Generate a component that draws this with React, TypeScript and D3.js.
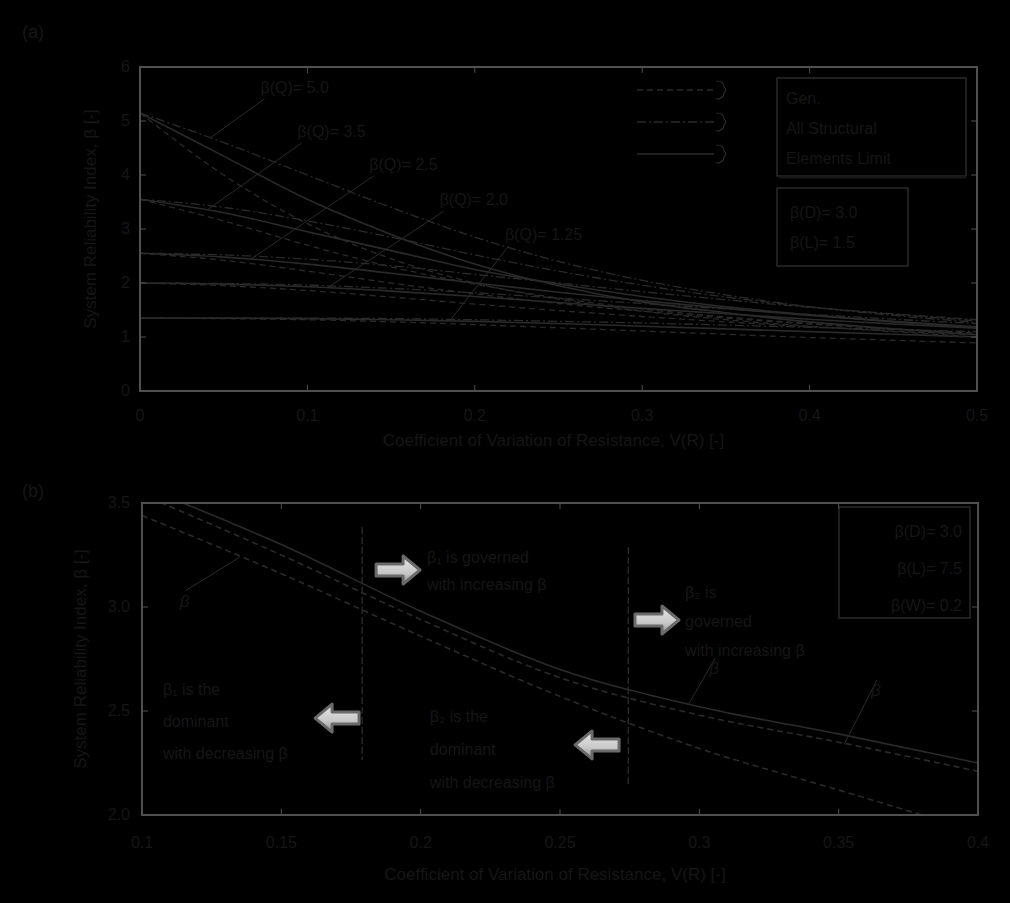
import React from 'react';
import * as d3 from 'd3';

const W = 1010;
const H = 903;

// ---------- Panel (a) data ----------
const covA = [0, 0.05, 0.1, 0.15, 0.2, 0.25, 0.3, 0.35, 0.4, 0.45, 0.5];
const xTicksA = [0, 0.1, 0.2, 0.3, 0.4, 0.5];
const xTickLabelsA = ['0', '0.1', '0.2', '0.3', '0.4', '0.5'];
const yTicksA = [0, 1, 2, 3, 4, 5, 6];

const g1Solid = [5.15, 4.35, 3.55, 2.9, 2.35, 1.95, 1.65, 1.45, 1.28, 1.15, 1.04];
const g1Dashed = [5.15, 4.0, 3.1, 2.45, 2.0, 1.7, 1.48, 1.32, 1.2, 1.1, 1.0];
const g1DashDot = [5.15, 4.6, 4.0, 3.4, 2.85, 2.4, 2.05, 1.78, 1.56, 1.4, 1.27];
const g2Solid = [3.55, 3.3, 2.95, 2.6, 2.25, 1.98, 1.75, 1.56, 1.41, 1.28, 1.17];
const g2Dashed = [3.55, 3.15, 2.7, 2.3, 1.98, 1.72, 1.52, 1.37, 1.25, 1.15, 1.07];
const g2DashDot = [3.55, 3.4, 3.15, 2.85, 2.52, 2.22, 1.96, 1.74, 1.56, 1.42, 1.3];
const g3Solid = [2.55, 2.48, 2.35, 2.18, 2.0, 1.83, 1.67, 1.53, 1.4, 1.29, 1.19];
const g3Dashed = [2.55, 2.42, 2.22, 2.0, 1.8, 1.62, 1.48, 1.35, 1.24, 1.15, 1.07];
const g3DashDot = [2.55, 2.52, 2.44, 2.32, 2.16, 2.0, 1.84, 1.69, 1.55, 1.43, 1.32];
const g4Solid = [2.0, 1.98, 1.93, 1.85, 1.75, 1.64, 1.53, 1.43, 1.33, 1.24, 1.16];
const g4Dashed = [2.0, 1.95, 1.86, 1.74, 1.61, 1.49, 1.38, 1.28, 1.19, 1.11, 1.04];
const g4DashDot = [2.0, 1.99, 1.96, 1.9, 1.82, 1.72, 1.62, 1.52, 1.42, 1.33, 1.25];
const g5Solid = [1.35, 1.35, 1.34, 1.32, 1.29, 1.25, 1.2, 1.15, 1.1, 1.05, 1.0];
const g5Dashed = [1.35, 1.34, 1.32, 1.28, 1.23, 1.17, 1.11, 1.05, 0.99, 0.94, 0.89];
const g5DashDot = [1.35, 1.35, 1.35, 1.34, 1.32, 1.29, 1.26, 1.22, 1.18, 1.14, 1.1];

const groupLabelsA = ['β(Q)= 5.0', 'β(Q)= 3.5', 'β(Q)= 2.5', 'β(Q)= 2.0', 'β(Q)= 1.25'];
const legendStyleLabelsA = ['Gen.', 'All Structural', 'Elements  Limit'];
const legendParamLabelsA = ['β(D)= 3.0', 'β(L)= 1.5'];

// ---------- Panel (b) data ----------
const covB = [0.1, 0.15, 0.2, 0.25, 0.3, 0.35, 0.4];
const xTicksB = [0.1, 0.15, 0.2, 0.25, 0.3, 0.35, 0.4];
const xTickLabelsB = ['0.1', '0.15', '0.2', '0.25', '0.3', '0.35', '0.4'];
const yTicksB = [2.0, 2.5, 3.0, 3.5];
const betaUpper = [3.58, 3.3, 2.98, 2.7, 2.52, 2.39, 2.25];
const betaMiddle = [3.54, 3.25, 2.94, 2.66, 2.48, 2.35, 2.21];
const betaLower = [3.44, 3.16, 2.86, 2.57, 2.32, 2.12, 1.92];
const boundariesB = [0.179, 0.2745];
const legendLabelsB = ['β(D)= 3.0', 'β(L)= 7.5', 'β(W)= 0.2'];
const noteT1 = ['β₁ is governed', 'with increasing β'];
const noteT2 = ['β₂ is', 'governed', 'with increasing β'];
const noteT3 = ['β₁ is the', 'dominant', 'with decreasing β'];
const noteT4 = ['β₂ is the', 'dominant', 'with decreasing β'];

// ---------- styles ----------
const BG = '#000000';
const FRAME = '#505050';
const TXT = '#161616';
const CURVE = '#2a2a2a';
const FONT = 'Liberation Sans, Arial, sans-serif';

const dashOf: Record<string, string | undefined> = {
  solid: undefined,
  dashed: '6,4',
  dashdot: '9,3,2,3',
};

const seriesA = [
  { g: 0, style: 'solid', v: g1Solid },
  { g: 0, style: 'dashed', v: g1Dashed },
  { g: 0, style: 'dashdot', v: g1DashDot },
  { g: 1, style: 'solid', v: g2Solid },
  { g: 1, style: 'dashed', v: g2Dashed },
  { g: 1, style: 'dashdot', v: g2DashDot },
  { g: 2, style: 'solid', v: g3Solid },
  { g: 2, style: 'dashed', v: g3Dashed },
  { g: 2, style: 'dashdot', v: g3DashDot },
  { g: 3, style: 'solid', v: g4Solid },
  { g: 3, style: 'dashed', v: g4Dashed },
  { g: 3, style: 'dashdot', v: g4DashDot },
  { g: 4, style: 'solid', v: g5Solid },
  { g: 4, style: 'dashed', v: g5Dashed },
  { g: 4, style: 'dashdot', v: g5DashDot },
];

const seriesB = [
  { style: 'solid', v: betaUpper },
  { style: 'dashed', v: betaMiddle },
  { style: 'dashed', v: betaLower },
];

// layout (data coords for annotations)
const labelPosA = [
  [0.072, 5.52], [0.094, 4.7], [0.137, 4.09], [0.179, 3.44], [0.218, 2.8],
];
const leaderEndA = [0.042, 0.04, 0.066, 0.112, 0.185];
const leaderSeriesA = [2, 3, 6, 9, 12];

function interp(xs: number[], ys: number[], x: number) {
  const i = d3.bisectLeft(xs, x);
  if (i <= 0) return ys[0];
  if (i >= xs.length) return ys[ys.length - 1];
  const t = (x - xs[i - 1]) / (xs[i] - xs[i - 1]);
  return ys[i - 1] + t * (ys[i] - ys[i - 1]);
}

function Arrow({ x, y, dir }: { x: number; y: number; dir: number }) {
  return (
    <g transform={`translate(${x},${y}) scale(${dir},1)`}>
      <path
        d="M -22 -6 L 5 -6 L 5 -14 L 22 0 L 5 14 L 5 6 L -22 6 Z"
        fill="url(#arrowGrad)"
        stroke="#6a6a6a"
        strokeWidth={3}
        strokeLinejoin="round"
      />
    </g>
  );
}

export default function App() {
  const xA = d3.scaleLinear().domain([0, 0.5]).range([140, 977]);
  const yA = d3.scaleLinear().domain([0, 6]).range([391, 67]);
  const xB = d3.scaleLinear().domain([0.1, 0.4]).range([142, 978]);
  const yB = d3.scaleLinear().domain([2.0, 3.5]).range([815, 503]);

  const lineA = d3
    .line<number>()
    .x((_, i) => xA(covA[i]))
    .y((d) => yA(d))
    .curve(d3.curveMonotoneX);
  const lineB = d3
    .line<number>()
    .x((_, i) => xB(covB[i]))
    .y((d) => yB(d))
    .curve(d3.curveMonotoneX);

  const [a0, a1] = xA.range();
  const [b0, b1] = xB.range();

  const textLines = (lines: string[], x: number, y: number, dy: number) => (
    <text x={x} y={y} fill={TXT} fontSize={16} fontFamily={FONT}>
      {lines.map((l, i) => (
        <tspan key={i} x={x} y={y + i * dy}>
          {l}
        </tspan>
      ))}
    </text>
  );

  return (
    <div style={{ position: 'fixed', left: 0, top: 0, width: W, height: H, background: BG }}>
      <svg width={W} height={H} viewBox={`0 0 ${W} ${H}`} style={{ display: 'block' }}>
        <defs>
          <clipPath id="clipA">
            <rect x={a0} y={yA(6)} width={a1 - a0} height={yA(0) - yA(6)} />
          </clipPath>
          <clipPath id="clipB">
            <rect x={b0} y={yB(3.5)} width={b1 - b0} height={yB(2) - yB(3.5)} />
          </clipPath>
          <linearGradient id="arrowGrad" x1="0" y1="0" x2="0" y2="1">
            <stop offset="0" stopColor="#e8e8e8" />
            <stop offset="0.6" stopColor="#c8c8c8" />
            <stop offset="1" stopColor="#909090" />
          </linearGradient>
        </defs>
        <rect x={0} y={0} width={W} height={H} fill={BG} />

        {/* ================= Panel (a) ================= */}
        <text x={22} y={38} fill={TXT} fontSize={18} fontFamily={FONT}>(a)</text>

        <g clipPath="url(#clipA)">
          {seriesA.map((s, i) => (
            <path
              key={i}
              d={lineA(s.v) || ''}
              fill="none"
              stroke={CURVE}
              strokeWidth={s.style === 'solid' ? 1.6 : 1.3}
              strokeDasharray={dashOf[s.style]}
            />
          ))}
        </g>

        {groupLabelsA.map((lab, i) => {
          const [lx, ly] = labelPosA[i];
          const ex = leaderEndA[i];
          const ey = interp(covA, seriesA[leaderSeriesA[i]].v, ex);
          return (
            <g key={i}>
              <line
                x1={xA(lx) + 4}
                y1={yA(ly) + 6}
                x2={xA(ex)}
                y2={yA(ey)}
                stroke={CURVE}
                strokeWidth={1}
              />
              <text x={xA(lx)} y={yA(ly)} fill={TXT} fontSize={16} fontFamily={FONT}>
                {lab}
              </text>
            </g>
          );
        })}

        <rect x={a0} y={yA(6)} width={a1 - a0} height={yA(0) - yA(6)} fill="none" stroke={FRAME} strokeWidth={2} />
        {xTicksA.map((t, i) => (
          <g key={'xa' + i}>
            <line x1={xA(t)} x2={xA(t)} y1={yA(0)} y2={yA(0) - 6} stroke={FRAME} />
            <line x1={xA(t)} x2={xA(t)} y1={yA(6)} y2={yA(6) + 6} stroke={FRAME} />
            <text x={xA(t)} y={yA(0) + 30} textAnchor="middle" fill={TXT} fontSize={16} fontFamily={FONT}>
              {xTickLabelsA[i]}
            </text>
          </g>
        ))}
        {yTicksA.map((t, i) => (
          <g key={'ya' + i}>
            <line x1={a0} x2={a0 + 6} y1={yA(t)} y2={yA(t)} stroke={FRAME} />
            <line x1={a1} x2={a1 - 6} y1={yA(t)} y2={yA(t)} stroke={FRAME} />
            <text x={a0 - 10} y={yA(t) + 5} textAnchor="end" fill={TXT} fontSize={16} fontFamily={FONT}>
              {t}
            </text>
          </g>
        ))}
        <text x={(a0 + a1) / 2 - 5} y={yA(0) + 55} textAnchor="middle" fill={TXT} fontSize={17} fontFamily={FONT}>
          Coefficient of Variation of Resistance, V(R) [-]
        </text>
        <text
          transform={`translate(96,${(yA(0) + yA(6)) / 2 - 10}) rotate(-90)`}
          textAnchor="middle"
          fill={TXT}
          fontSize={17}
          fontFamily={FONT}
        >
          System Reliability Index, β [-]
        </text>

        {['dashed', 'dashdot', 'solid'].map((st, i) => {
          const y = 90 + i * 32;
          return (
            <g key={st}>
              <line x1={637} x2={714} y1={y} y2={y} stroke={CURVE} strokeWidth={1.6} strokeDasharray={dashOf[st]} />
              <path
                d={`M 716 ${y - 9} Q 724 ${y - 9} 724 ${y - 3} L 726 ${y} L 724 ${y + 3} Q 724 ${y + 9} 716 ${y + 9}`}
                fill="none"
                stroke={CURVE}
                strokeWidth={1.2}
              />
            </g>
          );
        })}
        <rect x={777} y={78} width={189} height={98} fill="none" stroke={CURVE} strokeWidth={1.5} />
        <line x1={779} x2={966} y1={177} y2={177} stroke="#181818" strokeWidth={3} />
        {textLines(legendStyleLabelsA, 786, 104, 30)}
        <rect x={777} y={188} width={131} height={78} fill="none" stroke={CURVE} strokeWidth={1.5} />
        {textLines(legendParamLabelsA, 790, 218, 30)}

        {/* ================= Panel (b) ================= */}
        <text x={22} y={497} fill={TXT} fontSize={18} fontFamily={FONT}>(b)</text>

        {boundariesB.map((b, i) => (
          <line
            key={'bd' + i}
            x1={xB(b)}
            x2={xB(b)}
            y1={i === 0 ? yB(3.385) : yB(3.288)}
            y2={i === 0 ? yB(2.264) : yB(2.135)}
            stroke={CURVE}
            strokeWidth={1.4}
            strokeDasharray="7,3"
          />
        ))}

        <g clipPath="url(#clipB)">
          {seriesB.map((s, i) => (
            <path
              key={i}
              d={lineB(s.v) || ''}
              fill="none"
              stroke={CURVE}
              strokeWidth={1.6}
              strokeDasharray={dashOf[s.style]}
            />
          ))}
        </g>

        {[
          { lx: 0.115, ly: 3.06, ex: 0.135, s: betaLower },
          { lx: 0.305, ly: 2.735, ex: 0.296, s: betaUpper },
          { lx: 0.363, ly: 2.63, ex: 0.352, s: betaMiddle },
        ].map((c, i) => {
          const ey = interp(covB, c.s, c.ex);
          return (
            <g key={'cl' + i}>
              <line x1={xB(c.lx) + 2} y1={yB(c.ly) - 4} x2={xB(c.ex)} y2={yB(ey) + 1} stroke={CURVE} strokeWidth={1} />
              <text x={xB(c.lx) - 4} y={yB(c.ly) + 12} fill={TXT} fontSize={17} fontStyle="italic" fontFamily={FONT}>
                β
              </text>
            </g>
          );
        })}

        <Arrow x={xB(0.1919)} y={yB(3.178)} dir={1} />
        <Arrow x={xB(0.2848)} y={yB(2.9375)} dir={1} />
        <Arrow x={xB(0.17)} y={yB(2.466)} dir={-1} />
        <Arrow x={xB(0.2633)} y={yB(2.337)} dir={-1} />
        {textLines(noteT1, xB(0.2023), yB(3.212), 27)}
        {textLines(noteT2, xB(0.2949), yB(3.043), 29)}
        {textLines(noteT3, xB(0.1075), yB(2.577), 32)}
        {textLines(noteT4, xB(0.2033), yB(2.447), 33)}

        <rect x={839} y={507} width={131} height={111} fill="none" stroke={CURVE} strokeWidth={1.5} />
        {legendLabelsB.map((l, i) => (
          <text key={'lb' + i} x={962} y={537 + i * 37} textAnchor="end" fill={TXT} fontSize={16} fontFamily={FONT}>
            {l}
          </text>
        ))}

        <rect x={b0} y={yB(3.5)} width={b1 - b0} height={yB(2) - yB(3.5)} fill="none" stroke={FRAME} strokeWidth={2} />
        {xTicksB.map((t, i) => (
          <g key={'xb' + i}>
            <line x1={xB(t)} x2={xB(t)} y1={yB(2)} y2={yB(2) - 6} stroke={FRAME} />
            <line x1={xB(t)} x2={xB(t)} y1={yB(3.5)} y2={yB(3.5) + 6} stroke={FRAME} />
            <text x={xB(t)} y={yB(2) + 33} textAnchor="middle" fill={TXT} fontSize={16} fontFamily={FONT}>
              {xTickLabelsB[i]}
            </text>
          </g>
        ))}
        {yTicksB.map((t, i) => (
          <g key={'yb' + i}>
            <line x1={b0} x2={b0 + 6} y1={yB(t)} y2={yB(t)} stroke={FRAME} />
            <line x1={b1} x2={b1 - 6} y1={yB(t)} y2={yB(t)} stroke={FRAME} />
            <text x={b0 - 12} y={yB(t) + 5} textAnchor="end" fill={TXT} fontSize={16} fontFamily={FONT}>
              {t.toFixed(1)}
            </text>
          </g>
        ))}
        <text x={(b0 + b1) / 2 - 5} y={yB(2) + 65} textAnchor="middle" fill={TXT} fontSize={17} fontFamily={FONT}>
          Coefficient of Variation of Resistance, V(R) [-]
        </text>
        <text
          transform={`translate(86,${(yB(2) + yB(3.5)) / 2}) rotate(-90)`}
          textAnchor="middle"
          fill={TXT}
          fontSize={17}
          fontFamily={FONT}
        >
          System Reliability Index, β [-]
        </text>
      </svg>
    </div>
  );
}
